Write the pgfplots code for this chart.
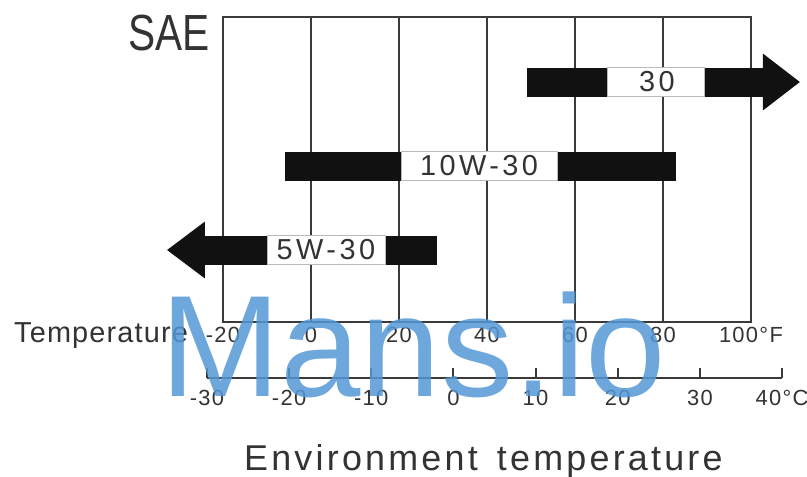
\documentclass[border=0pt]{standalone}
\usepackage{fontspec}
\setmainfont{Liberation Sans}
\usepackage{pgfplots}
\pgfplotsset{compat=1.18}
\definecolor{gridc}{HTML}{3A3A3A}
\definecolor{txt}{HTML}{333333}
\definecolor{barc}{HTML}{111111}
\definecolor{wm}{RGB}{84,152,214}
\newfontfamily\spaced[LetterSpace=6]{Liberation Sans}
\newfontfamily\wide[LetterSpace=12]{Liberation Sans}
\newfontfamily\envf[LetterSpace=9]{Liberation Sans}
\newfontfamily\tempf[LetterSpace=4]{Liberation Sans}

\begin{document}
\begin{tikzpicture}[x=1bp,y=1bp]
% ---------- Fahrenheit grid with the oil bars ----------
\begin{axis}[
  at={(223bp,-17bp)}, anchor=north west,
  x=4.4bp, y=84bp, y dir=reverse,
  xmin=-20, xmax=100, ymin=-0.774, ymax=2.857,
  xtick={-20,0,20,40,60,80,100},
  xticklabels={-20,0,20,40,60,80,100°F},
  ytick=\empty,
  xmajorgrids, grid style={gridc, line width=2.2bp},
  axis line style={gridc, line width=2.2bp},
  major tick length=0pt,
  xticklabel style={font=\fontsize{22}{22}\spaced, text=txt, anchor=base, inner sep=0pt, yshift=-20bp},
  clip=false,
]
% SAE 30 (row 0)
\addplot[barc, line width=29bp] coordinates {(49,0) (67.3,0)};
\addplot[barc, line width=29bp] coordinates {(89.5,0) (103.0,0)};
\addplot[barc, fill=barc, draw=none] coordinates {(102.7,-0.339) (111.1,0) (102.7,0.339)} -- cycle;
\addplot[fill=white, draw=gray!55, line width=0.8bp] coordinates {(67.3,-0.17) (89.5,-0.17) (89.5,0.17) (67.3,0.17)} -- cycle;
\node[font=\fontsize{29}{29}\wide, text=txt] at (axis cs:78.6,0) {30};
% SAE 10W-30 (row 1)
\addplot[barc, line width=29bp] coordinates {(-5.9,1) (20.5,1)};
\addplot[barc, line width=29bp] coordinates {(55.9,1) (83.0,1)};
\addplot[fill=white, draw=gray!55, line width=0.8bp] coordinates {(20.5,0.83) (55.9,0.83) (55.9,1.17) (20.5,1.17)} -- cycle;
\node[font=\fontsize{29}{29}\wide, text=txt] at (axis cs:38.2,1) {10W-30};
% SAE 5W-30 (row 2)
\addplot[barc, line width=29bp] coordinates {(-24.3,2) (-10,2)};
\addplot[barc, line width=29bp] coordinates {(16.8,2) (28.6,2)};
\addplot[barc, fill=barc, draw=none] coordinates {(-24.1,1.661) (-32.7,2) (-24.1,2.339)} -- cycle;
\addplot[fill=white, draw=gray!55, line width=0.8bp] coordinates {(-10,1.83) (16.8,1.83) (16.8,2.17) (-10,2.17)} -- cycle;
\node[font=\fontsize{29}{29}\wide, text=txt] at (axis cs:3.4,2) {5W-30};
\end{axis}
% ---------- Celsius scale ----------
\begin{axis}[
  at={(207bp,-378bp)}, anchor=south west,
  x=8.214bp, y=1bp,
  xmin=-30, xmax=40, ymin=0, ymax=1,
  axis x line=bottom, axis y line=none,
  axis line style={-, gridc, line width=2.2bp},
  xtick={-30,-20,-10,0,10,20,30,40},
  xticklabels={-30,-20,-10,0,10,20,30,40°C},
  tick align=inside, major tick length=10bp,
  tick style={gridc, line width=2bp},
  xticklabel style={font=\fontsize{22}{22}\spaced, text=txt, anchor=base, inner sep=0pt, yshift=-27bp},
  clip=false,
]
\end{axis}
% ---------- texts ----------
\node[anchor=base west, inner sep=0pt, text=txt, font=\fontsize{51}{51}\selectfont] at (128bp,-50bp) {\scalebox{0.8}[1]{SAE}};
\node[anchor=base west, inner sep=0pt, text=txt, font=\fontsize{29}{29}\tempf] at (14bp,-342bp) {Temperature};
\node[anchor=base west, inner sep=0pt, text=txt, font=\fontsize{36}{36}\envf] at (244bp,-470bp) {Environment\hspace{6bp} temperature};
\node[anchor=base west, inner sep=0pt, text=wm, text opacity=0.85, font=\fontsize{145}{145}\selectfont] at (160bp,-396bp) {Mans.io};
\pgfresetboundingbox
\path[use as bounding box] (0,0) rectangle (807bp,-477bp);
\end{tikzpicture}
\end{document}
